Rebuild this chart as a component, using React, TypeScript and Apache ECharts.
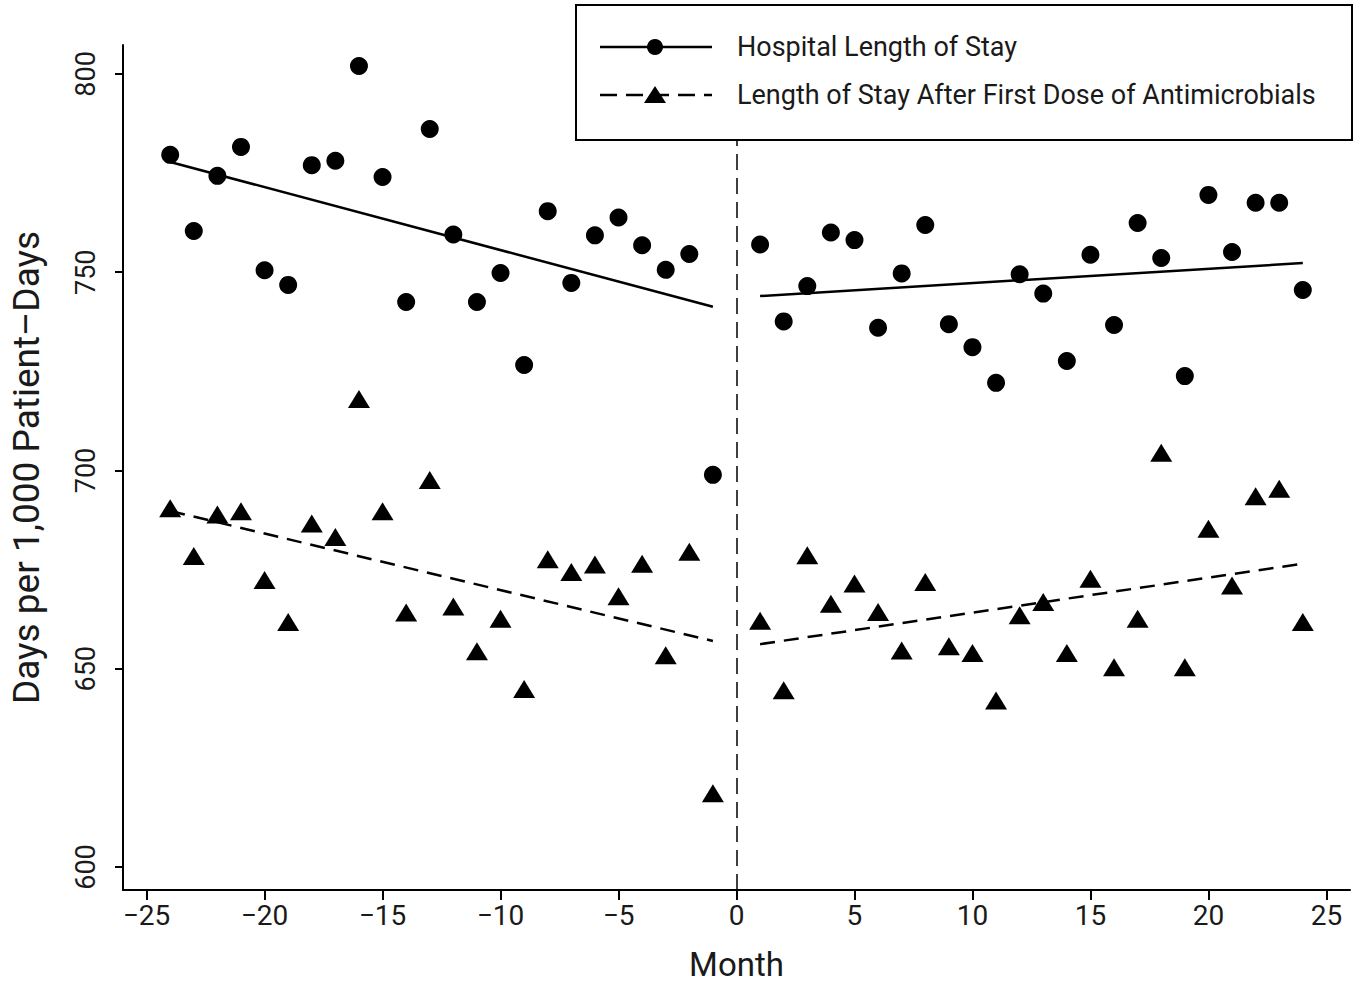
import React, { useEffect, useRef } from "react";
import * as echarts from "echarts";

// ---- Data ----
const preMonths = [-24, -23, -22, -21, -20, -19, -18, -17, -16, -15, -14, -13, -12, -11, -10, -9, -8, -7, -6, -5, -4, -3, -2, -1];
const postMonths = [1, 2, 3, 4, 5, 6, 7, 8, 9, 10, 11, 12, 13, 14, 15, 16, 17, 18, 19, 20, 21, 22, 23, 24];

const preLOS = [779.6, 760.4, 774.3, 781.6, 750.5, 746.8, 777.0, 778.1, 802.0, 774.0, 742.5, 786.1, 759.5, 742.5, 749.8, 726.6, 765.4, 747.3, 759.3, 763.8, 756.8, 750.6, 754.6, 698.9];
const postLOS = [757.0, 737.6, 746.5, 760.0, 758.1, 736.0, 749.7, 761.9, 736.9, 731.1, 722.1, 749.5, 744.6, 727.6, 754.4, 736.7, 762.4, 753.6, 723.8, 769.5, 755.1, 767.5, 767.5, 745.5];

const preAM = [690.5, 678.4, 688.9, 689.7, 672.4, 661.8, 686.6, 683.2, 718.0, 689.7, 664.2, 697.6, 665.7, 654.4, 662.6, 644.9, 677.6, 674.4, 676.3, 668.3, 676.5, 653.4, 679.5, 618.6];
const postAM = [662.1, 644.6, 678.6, 666.4, 671.5, 664.3, 654.6, 671.9, 655.7, 654.0, 642.0, 663.5, 666.8, 654.0, 672.7, 650.4, 662.6, 704.5, 650.4, 685.3, 671.0, 693.5, 695.4, 661.8];

// fitted trend segments (endpoints)
const losTrendPre = [[-24, 777.8], [-1, 741.3]];
const losTrendPost = [[1, 744.0], [24, 752.3]];
const amTrendPre = [[-24, 689.8], [-1, 657.0]];
const amTrendPost = [[1, 656.2], [24, 676.5]];

const xTicks = [-25, -20, -15, -10, -5, 0, 5, 10, 15, 20, 25];
const yTicks = [600, 650, 700, 750, 800];

const seriesNames = ["Hospital Length of Stay", "Length of Stay After First Dose of Antimicrobials"];
const xTitle = "Month";
const yTitle = "Days per 1,000 Patient\u2013Days";

const FONT = "Roboto";
const INK = "#1a1a1a";

function fmt(v: number) {
  return v < 0 ? "\u2212" + Math.abs(v) : String(v);
}

export default function App() {
  const ref = useRef<HTMLDivElement>(null);
  useEffect(() => {
    if (!ref.current) return;
    const chart = echarts.init(ref.current, undefined, { renderer: "svg" });
    const zip = (xs: number[], ys: number[]) => xs.map((x, i) => [x, ys[i]]);
    const losPts = [...zip(preMonths, preLOS), ...zip(postMonths, postLOS)];
    const amPts = [...zip(preMonths, preAM), ...zip(postMonths, postAM)];

    const trend = (data: number[][], dashed: boolean) => ({
      type: "line",
      data,
      symbol: "none",
      silent: true,
      z: 3,
      lineStyle: { color: "#000", width: 2.5, type: dashed ? [15, 9] : "solid" },
    });

    const lx1 = 600, lx2 = 712, lmid = 655;
    const ly1 = 47, ly2 = 95;

    chart.setOption({
      animation: false,
      backgroundColor: "#fff",
      grid: { left: 122, right: 16, top: 45, bottom: 96, containLabel: false },
      xAxis: {
        type: "value",
        min: -26,
        max: 26,
        name: xTitle,
        nameLocation: "middle",
        nameGap: 58,
        nameTextStyle: { fontFamily: FONT, fontSize: 33, color: INK },
        axisLine: { onZero: false, lineStyle: { color: "#000", width: 2 } },
        axisTick: { customValues: xTicks, length: 10, lineStyle: { color: "#000", width: 2 } },
        axisLabel: {
          customValues: xTicks,
          formatter: (v: number) => fmt(v),
          fontFamily: FONT,
          fontSize: 28,
          color: INK,
          margin: 11,
        },
        splitLine: { show: false },
      },
      yAxis: {
        type: "value",
        min: 594.2,
        max: 807.3,
        name: yTitle,
        nameLocation: "middle",
        nameGap: 78,
        nameTextStyle: { fontFamily: FONT, fontSize: 37, color: INK },
        axisLine: { onZero: false, lineStyle: { color: "#000", width: 2 } },
        axisTick: { customValues: yTicks, length: 8, lineStyle: { color: "#000", width: 2 } },
        axisLabel: {
          customValues: yTicks,
          rotate: 90,
          fontFamily: FONT,
          fontSize: 27,
          color: INK,
          margin: 24,
        },
        splitLine: { show: false },
      },
      series: [
        {
          name: seriesNames[0],
          type: "scatter",
          data: losPts,
          symbol: "circle",
          symbolSize: 18,
          itemStyle: { color: "#000", opacity: 1 },
          z: 4,
          markLine: {
            silent: true,
            symbol: "none",
            label: { show: false },
            lineStyle: { color: "#000", width: 1.5, type: [16, 8], opacity: 1 },
            data: [{ xAxis: 0 }],
          },
        },
        {
          name: seriesNames[1],
          type: "scatter",
          data: amPts,
          symbol: "triangle",
          symbolSize: [22, 18],
          itemStyle: { color: "#000", opacity: 1 },
          z: 4,
        },
        trend(losTrendPre, false),
        trend(losTrendPost, false),
        trend(amTrendPre, true),
        trend(amTrendPost, true),
      ],
      graphic: [
        {
          type: "rect",
          z: 10,
          shape: { x: 576, y: 5, width: 776, height: 135 },
          style: { fill: "#fff", stroke: "#000", lineWidth: 2 },
        },
        {
          type: "line",
          z: 11,
          shape: { x1: lx1, y1: ly1, x2: lx2, y2: ly1 },
          style: { stroke: "#000", lineWidth: 2.5 },
        },
        {
          type: "circle",
          z: 12,
          shape: { cx: lmid, cy: ly1, r: 8 },
          style: { fill: "#000" },
        },
        {
          type: "text",
          z: 12,
          x: 737,
          y: ly1,
          style: {
            text: seriesNames[0],
            fontFamily: FONT,
            fontSize: 27,
            fill: INK,
            verticalAlign: "middle",
            align: "left",
          },
        },
        {
          type: "line",
          z: 11,
          shape: { x1: lx1, y1: ly2, x2: lx2, y2: ly2 },
          style: { stroke: "#000", lineWidth: 2.5, lineDash: [17, 9] },
        },
        {
          type: "polygon",
          z: 12,
          shape: { points: [[lmid - 11, ly2 + 8], [lmid + 11, ly2 + 8], [lmid, ly2 - 9]] },
          style: { fill: "#000" },
        },
        {
          type: "text",
          z: 12,
          x: 737,
          y: ly2,
          style: {
            text: seriesNames[1],
            fontFamily: FONT,
            fontSize: 27,
            fill: INK,
            verticalAlign: "middle",
            align: "left",
          },
        },
      ],
    });
    return () => chart.dispose();
  }, []);
  return (
    <div
      ref={ref}
      style={{ position: "fixed", left: 0, top: 0, width: 1366, height: 986, background: "#fff" }}
    />
  );
}
